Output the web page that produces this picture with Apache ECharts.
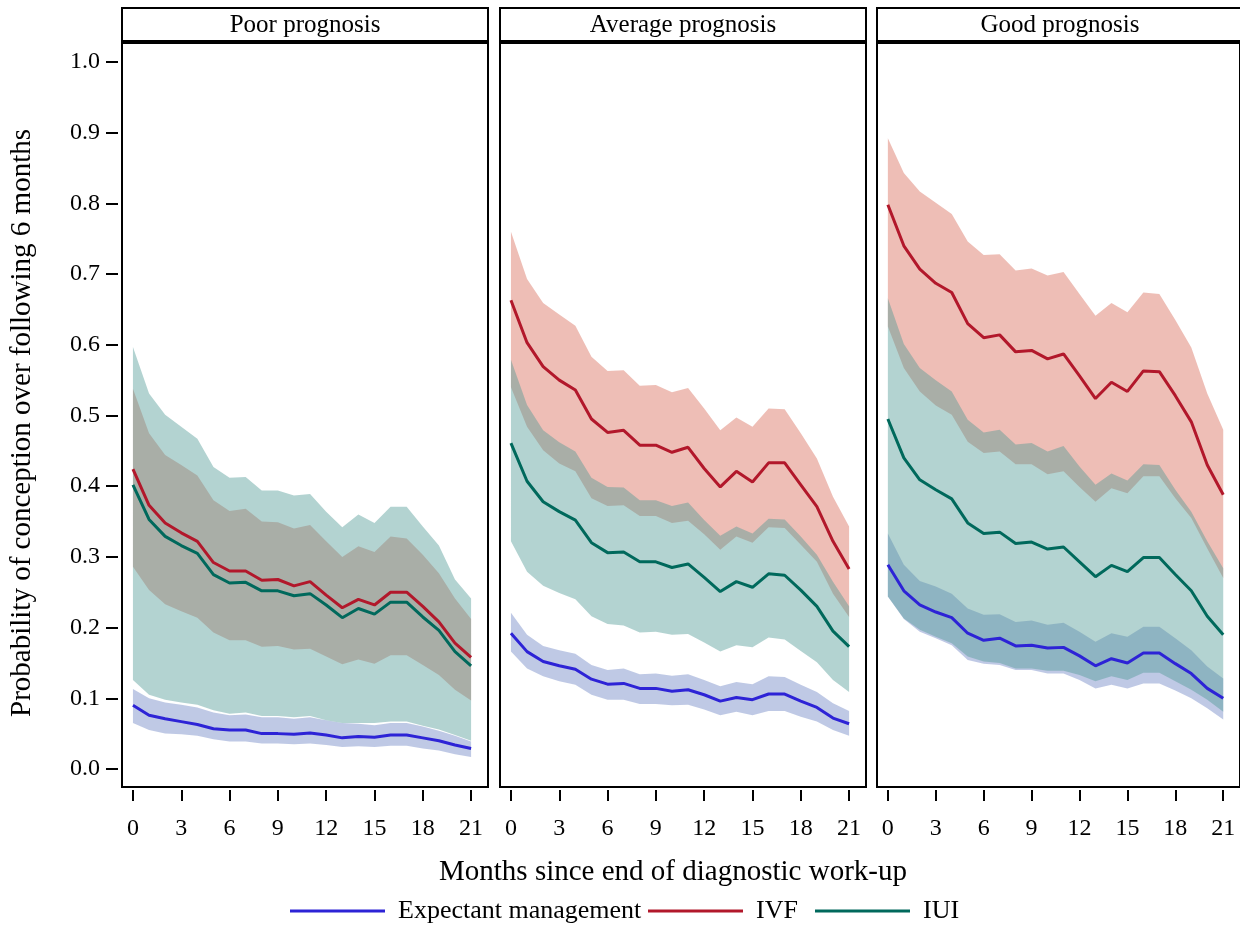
<!DOCTYPE html>
<html>
<head>
<meta charset="utf-8">
<script src="https://cdn.jsdelivr.net/npm/echarts@6/dist/echarts.min.js"></script>
<style>
  html, body { margin: 0; padding: 0; background: #fff; }
  #chart { width: 1240px; height: 925px; }
</style>
</head>
<body>
<div id="chart"></div>
<script>
const months = [0, 1, 2, 3, 4, 5, 6, 7, 8, 9, 10, 11, 12, 13, 14, 15, 16, 17, 18, 19, 20, 21]
const xTicks = [0, 3, 6, 9, 12, 15, 18, 21]
const yTicks = [0, 0.1, 0.2, 0.3, 0.4, 0.5, 0.6, 0.7, 0.8, 0.9, 1.0]
const panels = ['Poor prognosis', 'Average prognosis', 'Good prognosis']
const treatments = ['Expectant management', 'IVF', 'IUI']

// poor prognosis
const poorEM = [0.090, 0.076, 0.071, 0.067, 0.063, 0.057, 0.055, 0.055, 0.050, 0.050, 0.049, 0.051, 0.048, 0.044, 0.046, 0.045, 0.048, 0.048, 0.044, 0.040, 0.034, 0.029]
const poorEMLow = [0.065, 0.055, 0.050, 0.049, 0.047, 0.042, 0.039, 0.039, 0.036, 0.036, 0.035, 0.036, 0.034, 0.031, 0.032, 0.031, 0.033, 0.033, 0.029, 0.026, 0.021, 0.017]
const poorEMHigh = [0.113, 0.100, 0.094, 0.091, 0.087, 0.080, 0.076, 0.077, 0.073, 0.073, 0.071, 0.073, 0.069, 0.065, 0.064, 0.062, 0.065, 0.065, 0.060, 0.054, 0.047, 0.039]
const poorIVF = [0.424, 0.373, 0.348, 0.334, 0.322, 0.292, 0.280, 0.280, 0.267, 0.268, 0.259, 0.265, 0.246, 0.228, 0.240, 0.232, 0.250, 0.250, 0.230, 0.208, 0.178, 0.158]
const poorIVFLow = [0.286, 0.253, 0.233, 0.223, 0.214, 0.193, 0.182, 0.182, 0.173, 0.174, 0.169, 0.170, 0.159, 0.148, 0.155, 0.149, 0.161, 0.161, 0.147, 0.133, 0.112, 0.097]
const poorIVFHigh = [0.538, 0.475, 0.444, 0.430, 0.415, 0.380, 0.365, 0.368, 0.350, 0.349, 0.340, 0.345, 0.322, 0.300, 0.315, 0.307, 0.329, 0.326, 0.303, 0.277, 0.241, 0.212]
const poorIUI = [0.402, 0.353, 0.329, 0.316, 0.305, 0.275, 0.263, 0.264, 0.252, 0.252, 0.245, 0.248, 0.232, 0.214, 0.227, 0.219, 0.236, 0.236, 0.215, 0.196, 0.166, 0.146]
const poorIUILow = [0.126, 0.105, 0.098, 0.094, 0.091, 0.083, 0.078, 0.080, 0.075, 0.075, 0.073, 0.075, 0.069, 0.065, 0.065, 0.065, 0.067, 0.067, 0.061, 0.056, 0.048, 0.040]
const poorIUIHigh = [0.597, 0.531, 0.501, 0.484, 0.467, 0.427, 0.412, 0.413, 0.394, 0.394, 0.387, 0.389, 0.364, 0.342, 0.360, 0.348, 0.371, 0.371, 0.343, 0.316, 0.268, 0.241]

// average prognosis
const avgEM = [0.192, 0.166, 0.152, 0.146, 0.141, 0.127, 0.120, 0.121, 0.114, 0.114, 0.110, 0.112, 0.105, 0.096, 0.101, 0.098, 0.106, 0.106, 0.096, 0.087, 0.072, 0.064]
const avgEMLow = [0.166, 0.142, 0.131, 0.124, 0.119, 0.105, 0.098, 0.098, 0.092, 0.092, 0.090, 0.091, 0.084, 0.076, 0.081, 0.076, 0.082, 0.082, 0.074, 0.067, 0.055, 0.047]
const avgEMHigh = [0.221, 0.190, 0.174, 0.168, 0.163, 0.147, 0.140, 0.142, 0.134, 0.135, 0.132, 0.134, 0.126, 0.117, 0.123, 0.120, 0.131, 0.130, 0.119, 0.109, 0.093, 0.082]
const avgIVF = [0.663, 0.603, 0.569, 0.550, 0.536, 0.495, 0.476, 0.479, 0.458, 0.458, 0.448, 0.455, 0.425, 0.399, 0.421, 0.406, 0.433, 0.433, 0.402, 0.371, 0.322, 0.283]
const avgIVFLow = [0.540, 0.484, 0.451, 0.432, 0.421, 0.383, 0.372, 0.373, 0.358, 0.358, 0.348, 0.351, 0.332, 0.310, 0.329, 0.320, 0.342, 0.341, 0.317, 0.293, 0.248, 0.215]
const avgIVFHigh = [0.760, 0.693, 0.659, 0.643, 0.627, 0.583, 0.563, 0.564, 0.542, 0.543, 0.533, 0.539, 0.510, 0.479, 0.497, 0.484, 0.510, 0.509, 0.475, 0.439, 0.385, 0.343]
const avgIUI = [0.461, 0.407, 0.378, 0.364, 0.352, 0.320, 0.306, 0.307, 0.293, 0.293, 0.285, 0.290, 0.271, 0.251, 0.265, 0.257, 0.276, 0.274, 0.253, 0.230, 0.195, 0.173]
const avgIUILow = [0.322, 0.279, 0.259, 0.249, 0.240, 0.216, 0.205, 0.203, 0.193, 0.194, 0.190, 0.191, 0.179, 0.166, 0.175, 0.172, 0.186, 0.183, 0.167, 0.151, 0.126, 0.109]
const avgIUIHigh = [0.579, 0.515, 0.479, 0.462, 0.449, 0.412, 0.399, 0.398, 0.380, 0.380, 0.372, 0.377, 0.352, 0.330, 0.343, 0.333, 0.354, 0.353, 0.329, 0.303, 0.265, 0.230]

// good prognosis
const goodEM = [0.289, 0.252, 0.232, 0.222, 0.214, 0.192, 0.182, 0.185, 0.174, 0.175, 0.171, 0.172, 0.160, 0.146, 0.156, 0.150, 0.164, 0.164, 0.149, 0.135, 0.114, 0.100]
const goodEMLow = [0.244, 0.212, 0.194, 0.185, 0.175, 0.154, 0.149, 0.147, 0.140, 0.140, 0.135, 0.135, 0.126, 0.114, 0.119, 0.114, 0.121, 0.121, 0.111, 0.100, 0.086, 0.070]
const goodEMHigh = [0.333, 0.289, 0.266, 0.258, 0.248, 0.227, 0.218, 0.219, 0.208, 0.210, 0.204, 0.207, 0.194, 0.180, 0.192, 0.187, 0.201, 0.201, 0.185, 0.168, 0.145, 0.128]
const goodIVF = [0.798, 0.740, 0.707, 0.687, 0.674, 0.630, 0.610, 0.614, 0.590, 0.592, 0.580, 0.587, 0.556, 0.524, 0.547, 0.534, 0.563, 0.562, 0.528, 0.491, 0.430, 0.388]
const goodIVFLow = [0.626, 0.567, 0.534, 0.514, 0.501, 0.463, 0.447, 0.449, 0.431, 0.431, 0.417, 0.421, 0.399, 0.378, 0.397, 0.390, 0.414, 0.414, 0.383, 0.355, 0.312, 0.270]
const goodIVFHigh = [0.892, 0.843, 0.817, 0.801, 0.785, 0.746, 0.727, 0.728, 0.705, 0.708, 0.698, 0.703, 0.672, 0.641, 0.659, 0.646, 0.674, 0.672, 0.635, 0.596, 0.531, 0.480]
const goodIUI = [0.495, 0.440, 0.409, 0.395, 0.382, 0.348, 0.333, 0.335, 0.319, 0.321, 0.311, 0.314, 0.293, 0.272, 0.288, 0.279, 0.299, 0.299, 0.275, 0.252, 0.216, 0.190]
const goodIUILow = [0.244, 0.213, 0.197, 0.187, 0.178, 0.159, 0.152, 0.150, 0.142, 0.142, 0.139, 0.139, 0.133, 0.124, 0.131, 0.126, 0.136, 0.136, 0.124, 0.112, 0.098, 0.081]
const goodIUIHigh = [0.666, 0.601, 0.567, 0.550, 0.534, 0.494, 0.476, 0.480, 0.459, 0.461, 0.449, 0.457, 0.428, 0.402, 0.418, 0.408, 0.431, 0.430, 0.395, 0.364, 0.322, 0.284]

const lineColors = ['#2d23d6', '#b2182b', '#00695c']
const bandColors = ['rgba(107,130,195,0.43)', 'rgba(216,105,86,0.43)', 'rgba(79,153,149,0.43)']
const font = 'Liberation Serif'

const panelData = [
  [[poorEM, poorEMLow, poorEMHigh], [poorIVF, poorIVFLow, poorIVFHigh], [poorIUI, poorIUILow, poorIUIHigh]],
  [[avgEM, avgEMLow, avgEMHigh], [avgIVF, avgIVFLow, avgIVFHigh], [avgIUI, avgIUILow, avgIUIHigh]],
  [[goodEM, goodEMLow, goodEMHigh], [goodIVF, goodIVFLow, goodIVFHigh], [goodIUI, goodIUILow, goodIUIHigh]]
]

const panelLeft = [122, 500, 877]
const panelWidth = 366
const panelTop = 42
const panelHeight = 745

const grids = panelLeft.map(left => ({
  left: left,
  top: panelTop,
  width: panelWidth,
  height: panelHeight,
  show: true,
  borderColor: '#000',
  borderWidth: 2,
  backgroundColor: 'transparent'
}))

const xAxes = panelLeft.map((_, i) => ({
  type: 'value',
  gridIndex: i,
  min: -0.68,
  max: 22.05,
  offset: 3,
  splitLine: { show: false },
  axisLine: { show: false, onZero: false },
  axisTick: { show: true, inside: false, length: 11, customValues: xTicks, lineStyle: { color: '#000', width: 2 } },
  axisLabel: { show: true, customValues: xTicks, margin: 27, color: '#000', fontFamily: font, fontSize: 24 }
}))

const yAxes = panelLeft.map((_, i) => ({
  type: 'value',
  gridIndex: i,
  min: -0.0255,
  max: 1.0283,
  offset: 4,
  splitLine: { show: false },
  axisLine: { show: false, onZero: false },
  axisTick: { show: i === 0, inside: false, length: 12, customValues: yTicks, lineStyle: { color: '#000', width: 2 } },
  axisLabel: {
    show: i === 0,
    customValues: yTicks,
    margin: 18,
    color: '#000',
    fontFamily: font,
    fontSize: 24,
    formatter: v => v.toFixed(1)
  }
}))

const bandSeries = (idx, low, high, color) => ({
  type: 'custom',
  xAxisIndex: idx,
  yAxisIndex: idx,
  silent: true,
  z: 1,
  data: [[0, 0]],
  renderItem: (params, api) => {
    const top = months.map((m, i) => api.coord([m, high[i]]))
    const bottom = months.map((m, i) => api.coord([m, low[i]])).reverse()
    return { type: 'polygon', shape: { points: top.concat(bottom) }, style: { fill: color } }
  }
})

const series = []
panelData.forEach((groups, p) => {
  groups.forEach((g, t) => series.push(bandSeries(p, g[1], g[2], bandColors[t])))
  groups.forEach((g, t) => series.push({
    name: treatments[t],
    type: 'line',
    xAxisIndex: p,
    yAxisIndex: p,
    z: 3,
    symbol: 'none',
    color: lineColors[t],
    lineStyle: { color: lineColors[t], width: 3 },
    data: months.map((m, i) => [m, g[0][i]])
  }))
})

// facet strips and axis titles
const graphics = []
panelLeft.forEach((left, i) => {
  graphics.push({ type: 'rect', shape: { x: left, y: 8, width: panelWidth, height: 34 }, style: { fill: '#fff', stroke: '#000', lineWidth: 2 } })
  graphics.push({ type: 'line', shape: { x1: left - 1, y1: 42, x2: left + panelWidth + 1, y2: 42 }, style: { stroke: '#000', lineWidth: 4 } })
  graphics.push({ type: 'text', x: left + panelWidth / 2, y: 25, style: { text: panels[i], font: '25px "Liberation Serif"', fill: '#000', align: 'center', verticalAlign: 'middle' } })
})
graphics.push({ type: 'text', x: 673, y: 872, style: { text: 'Months since end of diagnostic work-up', font: '29px "Liberation Serif"', fill: '#000', align: 'center', verticalAlign: 'middle' } })
graphics.push({ type: 'text', x: 22, y: 423, rotation: Math.PI / 2, style: { text: 'Probability of conception over following 6 months', font: '29px "Liberation Serif"', fill: '#000', align: 'center', verticalAlign: 'middle' } })

const legendAt = [290, 648, 815]
const legends = treatments.map((name, i) => ({
  data: [name],
  left: legendAt[i],
  top: 898,
  padding: 0,
  icon: 'rect',
  itemWidth: 95,
  itemHeight: 3,
  selectedMode: false,
  textStyle: { color: '#000', fontFamily: font, fontSize: 26, padding: [0, 0, 0, 8] }
}))

const chart = echarts.init(document.getElementById('chart'))
chart.setOption({
  animation: false,
  backgroundColor: '#fff',
  grid: grids,
  xAxis: xAxes,
  yAxis: yAxes,
  legend: legends,
  series: series,
  graphic: graphics
})
</script>
</body>
</html>
